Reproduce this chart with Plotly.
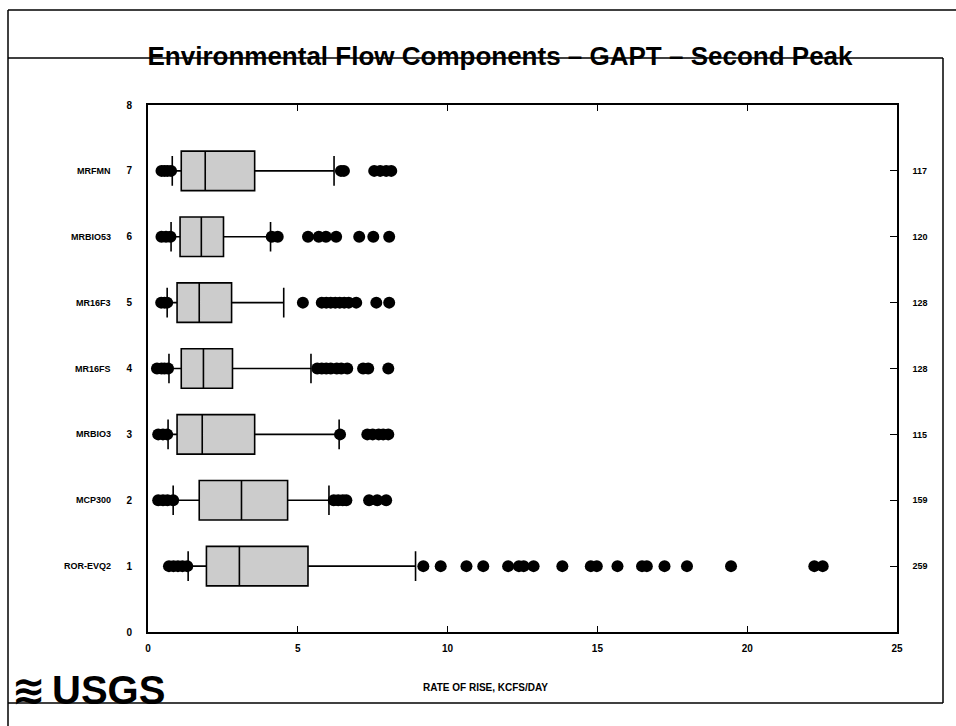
import plotly.graph_objects as go

# ---------------- data ----------------
categories = ["ROR-EVQ2", "MCP300", "MRBIO3", "MR16FS", "MR16F3", "MRBIO53", "MRFMN"]
positions = [1, 2, 3, 4, 5, 6, 7]
counts = ["259", "159", "115", "128", "128", "120", "117"]

lower_whisker = [1.34, 0.84, 0.67, 0.70, 0.64, 0.77, 0.81]
q1_vals       = [1.95, 1.71, 0.97, 1.11, 0.97, 1.07, 1.11]
medians       = [3.05, 3.12, 1.81, 1.85, 1.71, 1.78, 1.91]
q3_vals       = [5.34, 4.66, 3.56, 2.82, 2.79, 2.52, 3.56]
upper_whisker = [8.93, 6.04, 6.38, 5.44, 4.53, 4.09, 6.21]

outliers = {
    1: [0.70, 0.85, 1.00, 1.15, 1.31, 9.19, 9.77, 10.63, 11.19, 12.02, 12.38, 12.54,
        12.87, 13.83, 14.78, 14.98, 15.67, 16.49, 16.65, 17.24, 17.99, 19.46, 22.24, 22.52],
    2: [0.34, 0.50, 0.65, 0.84, 6.20, 6.35, 6.50, 6.62, 7.38, 7.65, 7.95],
    3: [0.34, 0.50, 0.64, 6.41, 7.32, 7.50, 7.70, 7.85, 8.02],
    4: [0.30, 0.45, 0.55, 0.67, 5.65, 5.80, 5.95, 6.10, 6.30, 6.45, 6.65, 7.18, 7.35, 8.02],
    5: [0.44, 0.55, 0.64, 5.17, 5.80, 5.95, 6.10, 6.25, 6.40, 6.55, 6.70, 6.95, 7.62, 8.05],
    6: [0.45, 0.60, 0.75, 4.13, 4.33, 5.34, 5.70, 5.94, 6.28, 7.05, 7.52, 8.05],
    7: [0.45, 0.55, 0.65, 0.77, 6.44, 6.54, 7.55, 7.75, 7.95, 8.12],
}

x_ticks = [0, 5, 10, 15, 20, 25]
y_ticks = [0, 1, 2, 3, 4, 5, 6, 7, 8]

title_text = "Environmental Flow Components \u2013 GAPT \u2013 Second Peak"
x_title = "RATE OF RISE, KCFS/DAY"

# ---------------- figure ----------------
W, H = 956, 726
L, R, T, B = 148, 59, 105, 94
pw, ph = W - L - R, H - T - B

def px_x(p):  # pixel -> paper x
    return (p - L) / pw

def px_y(p):  # pixel -> paper y
    return (H - B - p) / ph

fig = go.Figure()

fig.add_trace(go.Box(
    y=positions, q1=q1_vals, median=medians, q3=q3_vals,
    lowerfence=lower_whisker, upperfence=upper_whisker,
    orientation="h", width=0.6, whiskerwidth=0.75,
    fillcolor="#cccccc", line=dict(color="black", width=1.6),
    boxpoints=False, showlegend=False, hoverinfo="skip",
))

ox, oy = [], []
for pos in positions:
    for v in outliers[pos]:
        ox.append(v)
        oy.append(pos)
fig.add_trace(go.Scatter(
    x=ox, y=oy, mode="markers",
    marker=dict(color="black", size=12, line=dict(width=0)),
    showlegend=False, hoverinfo="skip",
))

# dummy trace for right axis
fig.add_trace(go.Scatter(x=[None], y=[None], yaxis="y2", showlegend=False))

tickfont = dict(family="Liberation Sans, Arial, sans-serif", size=10, color="black")

fig.update_layout(
    width=W, height=H,
    margin=dict(l=L, r=R, t=T, b=B),
    paper_bgcolor="white", plot_bgcolor="white",
    title=dict(text="<b>" + title_text + "</b>", x=500 / W, xanchor="center",
               y=1 - 56 / H, yanchor="middle", xref="container", yref="container",
               font=dict(family="Liberation Sans, Arial, sans-serif",
                         size=26, color="black")),
    xaxis=dict(range=[0, 25], tickvals=x_ticks, ticktext=[f"<b>{t}</b>" for t in x_ticks],
               ticks="inside", ticklen=6, tickcolor="black", tickwidth=1.2,
               showline=True, linecolor="black", linewidth=1.6, mirror="ticks",
               showgrid=False, zeroline=False, tickfont=tickfont, ticklabelstandoff=6),
    yaxis=dict(range=[0, 8], tickvals=y_ticks, ticktext=[f"<b>{t}</b>" for t in y_ticks],
               ticks="", showline=True, linecolor="black", linewidth=1.8,
               showgrid=False, zeroline=False, tickfont=tickfont, ticklabelstandoff=12),
    yaxis2=dict(range=[0, 8], overlaying="y", side="right", tickvals=positions,
                ticktext=[f"<b>{c}</b>" for c in counts], ticks="inside", ticklen=7,
                tickcolor="black", showline=True, linecolor="black", linewidth=1.6,
                showgrid=False, zeroline=False,
                tickfont=dict(family="Liberation Sans, Arial, sans-serif", size=9, color="black"),
                ticklabelstandoff=12),
)

# category names
for cat, pos in zip(categories, positions):
    fig.add_annotation(text=f"<b>{cat}</b>", x=px_x(113), xref="paper", y=pos, yref="y",
                       xanchor="right", yanchor="middle", showarrow=False,
                       font=dict(family="Liberation Sans, Arial, sans-serif", size=9, color="black"))

# x axis title
fig.add_annotation(text=f"<b>{x_title}</b>", x=px_x(485), xref="paper", y=px_y(687), yref="paper",
                   xanchor="center", yanchor="middle", showarrow=False,
                   font=dict(family="Liberation Sans, Arial, sans-serif", size=10, color="black"))

# USGS logo
fig.add_annotation(text="<b>USGS</b>", x=px_x(50), xref="paper", y=px_y(690), yref="paper",
                   xanchor="left", yanchor="middle", showarrow=False,
                   font=dict(family="Liberation Sans, Arial, sans-serif",
                             size=40, color="black"))
fig.add_annotation(text="<b>\u224B</b>", x=px_x(48), xref="paper", y=px_y(690), yref="paper",
                   xanchor="right", yanchor="middle", showarrow=False,
                   font=dict(family="DejaVu Sans, sans-serif", size=40, color="black"))

# page frame lines
frame = [
    (8, 10, 956, 10),     # top
    (8, 10, 8, 726),      # left
    (8, 58, 943, 58),     # title line
    (943, 58, 943, 703),  # right
    (8, 703, 943, 703),   # bottom
]
for x0, y0, x1, y1 in frame:
    fig.add_shape(type="line", xref="paper", yref="paper",
                  x0=px_x(x0), y0=px_y(y0), x1=px_x(x1), y1=px_y(y1),
                  line=dict(color="black", width=1.5), layer="below")

fig.write_html("out.html", config={"displayModeBar": False},
               post_script="document.body.style.margin='0';document.body.style.overflow='hidden';")
